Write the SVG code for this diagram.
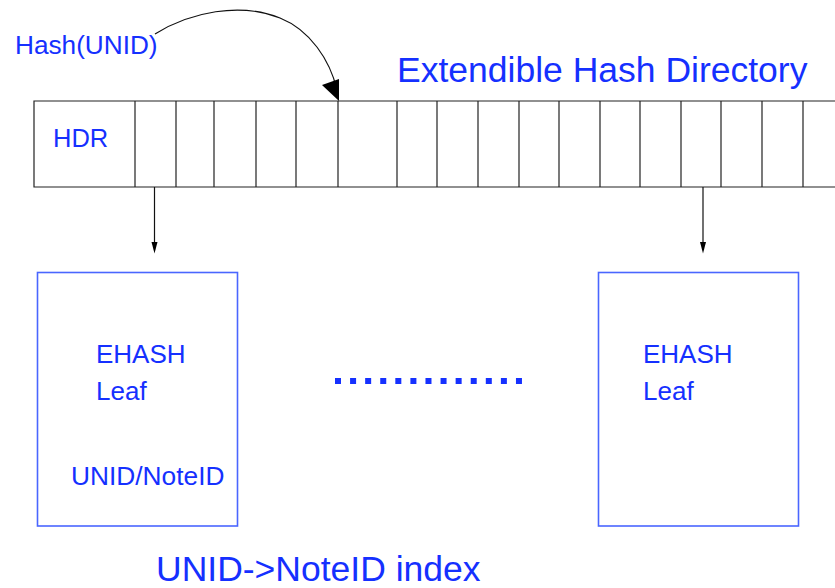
<svg xmlns="http://www.w3.org/2000/svg" width="835" height="588" viewBox="0 0 835 588">
  <style>
    .lbl { font-family: "Liberation Sans", Arial, sans-serif; fill: #1530ff; }
    .cell { stroke: #222; stroke-width: 1.2; fill: none; }
    .leaf { fill: #fff; stroke: #4a66ff; stroke-width: 1.6; }
    .wire { stroke: #111; stroke-width: 1.2; fill: none; }
    .head { fill: #000; }
  </style>
  <rect width="835" height="588" fill="#fff"/>

  <!-- Extendible hash directory: header cell followed by bucket pointers -->
  <g id="directory">
    <path class="cell" d="M836,101 H34 V187 H836"/>
    <path class="cell" d="M135,101V187 M176,101V187 M214,101V187 M256,101V187 M296,101V187 M338,101V187 M397,101V187 M437,101V187 M478,101V187 M519,101V187 M559,101V187 M600,101V187 M640,101V187 M681,101V187 M721,101V187 M762,101V187 M803,101V187"/>
    <text class="lbl" x="53" y="147" font-size="25.5">HDR</text>
  </g>
  <text id="title" class="lbl" x="397" y="82" font-size="35.5">Extendible Hash Directory</text>
  <text id="hash-label" class="lbl" x="15" y="54" font-size="26.2">Hash(UNID)</text>

  <!-- Leaf pages -->
  <g id="leaf-left">
    <rect class="leaf" x="37.5" y="272.5" width="200" height="253.5"/>
    <text class="lbl" x="96" y="363" font-size="26">EHASH</text>
    <text class="lbl" x="96" y="400" font-size="26">Leaf</text>
    <text class="lbl" x="71" y="485" font-size="26.3">UNID/NoteID</text>
  </g>
  <g id="leaf-right">
    <rect class="leaf" x="598.5" y="272.5" width="200" height="253.5"/>
    <text class="lbl" x="643" y="363" font-size="26">EHASH</text>
    <text class="lbl" x="643" y="400" font-size="26">Leaf</text>
  </g>

  <!-- Ellipsis between leaves -->
  <line id="ellipsis" x1="335" y1="381" x2="522" y2="381" stroke="#1530ff" stroke-width="6" stroke-dasharray="6 9.08"/>

  <text id="caption" class="lbl" x="156" y="580.5" font-size="35.5">UNID-&gt;NoteID index</text>

  <!-- Connectors -->
  <g id="connectors">
    <path class="wire" d="M155,34 C190,12 240,2 280,18 C310,30 330,60 337,90"/>
    <polygon class="head" points="322,85 339,79 339,101"/>
    <line class="wire" x1="154.5" y1="187" x2="154.5" y2="243"/>
    <polygon class="head" points="151.5,242 157.5,242 154.5,253.5"/>
    <line class="wire" x1="703" y1="187" x2="703" y2="243"/>
    <polygon class="head" points="700,242 706,242 703,253.5"/>
  </g>
</svg>
